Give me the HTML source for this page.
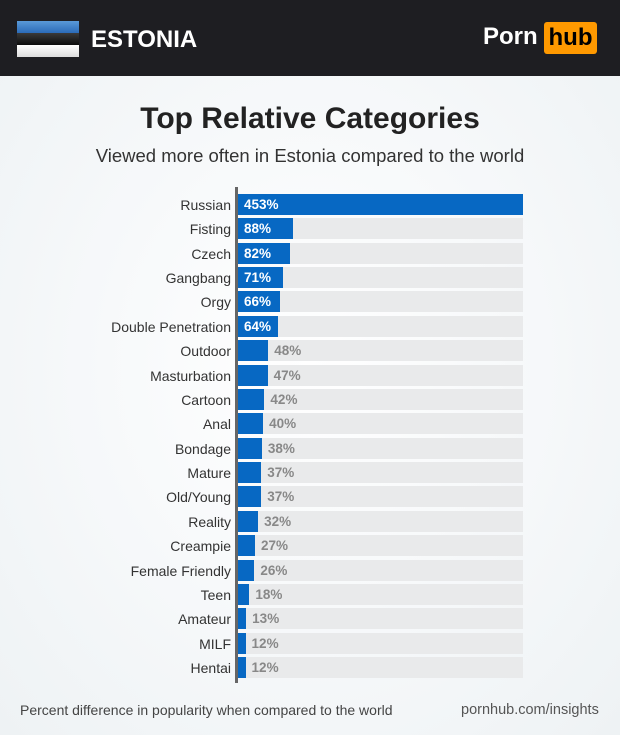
<!DOCTYPE html>
<html><head><meta charset="utf-8"><style>
*{margin:0;padding:0;box-sizing:border-box}
body{width:620px;height:735px;position:relative;overflow:hidden;font-family:"Liberation Sans",sans-serif;background:radial-gradient(ellipse at 50% 50%,#ffffff 0%,#f3f6f8 70%,#eef2f4 100%)}
.hdr{position:absolute;left:0;top:0;width:620px;height:76px;background:#1e1e22}
.flag{position:absolute;left:17px;top:21px;width:62px;height:36px}
.flag div{height:12px}
.t{position:absolute;white-space:nowrap}
.lab{position:absolute;right:389px;font-size:14px;color:#333;text-align:right;white-space:nowrap}
.bg{position:absolute;left:238px;width:285px;height:21px;background:#e9eaeb}
.bar{position:absolute;left:238px;height:21px;background:#0768c3}
.v{position:absolute;font-size:13.5px;font-weight:bold;white-space:nowrap}
</style></head><body>
<div class="hdr">
<div class="flag"><div style="background:linear-gradient(#5a9ad8,#2b6bb8)"></div><div style="background:linear-gradient(#3a3a3a,#0c0c0c)"></div><div style="background:linear-gradient(#fff,#ddd)"></div></div>
<div class="t" style="left:91px;top:26px;font-size:24px;font-weight:bold;color:#fff">ESTONIA</div>
<div class="t" style="left:483px;top:23px;font-size:24px;font-weight:bold;color:#fff">Porn</div>
<div class="t" style="left:544px;top:22px;width:53px;height:32px;background:#ff9900;border-radius:3px;font-size:24px;font-weight:bold;color:#000;text-align:center;line-height:32px">hub</div>
</div>
<div class="t" style="left:0;width:620px;text-align:center;top:102px;font-size:30px;font-weight:bold;color:#222">Top Relative Categories</div>
<div class="t" style="left:0;width:620px;text-align:center;top:145px;font-size:18.5px;color:#333">Viewed more often in Estonia compared to the world</div>
<div style="position:absolute;left:235px;top:187px;width:3px;height:496px;background:#666"></div>
<div id="rows"></div>
<div class="t" style="left:20px;top:702px;font-size:14px;color:#444">Percent difference in popularity when compared to the world</div>
<div class="t" style="left:461px;top:702px;font-size:14.5px;color:#555">pornhub.com/insights</div>
<script>
var d=[["Russian",453],["Fisting",88],["Czech",82],["Gangbang",71],["Orgy",66],["Double Penetration",64],["Outdoor",48],["Masturbation",47],["Cartoon",42],["Anal",40],["Bondage",38],["Mature",37],["Old/Young",37],["Reality",32],["Creampie",27],["Female Friendly",26],["Teen",18],["Amateur",13],["MILF",12],["Hentai",12]];
var h="";
d.forEach(function(r,i){var y=194+i*24.37,w=r[1]/453*285;
h+='<div class="bg" style="top:'+y+'px"></div><div class="bar" style="top:'+y+'px;width:'+w+'px"></div>';
h+='<div class="lab" style="top:'+(y+3)+'px">'+r[0]+'</div>';
if(r[1]>=64)h+='<div class="v" style="left:244px;top:'+(y+3)+'px;color:#fff">'+r[1]+'%</div>';
else h+='<div class="v" style="left:'+(238+w+6)+'px;top:'+(y+3)+'px;color:#888">'+r[1]+'%</div>';});
document.getElementById("rows").innerHTML=h;
</script>
</body></html>
